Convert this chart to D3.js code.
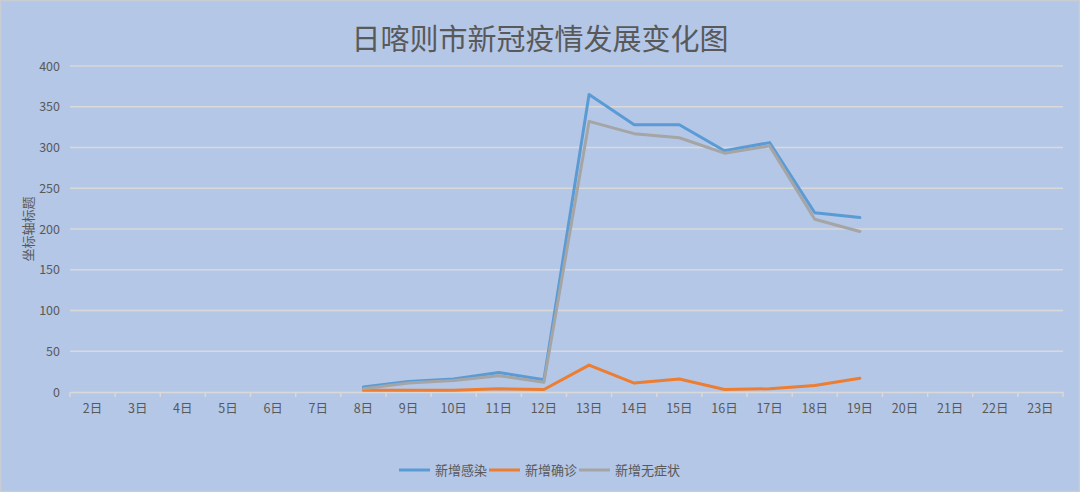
<!DOCTYPE html>
<html><head><meta charset="utf-8">
<script src="https://cdn.jsdelivr.net/npm/d3@7"></script>
<style>
html,body{margin:0;padding:0;background:#B4C7E7;}
svg{display:block;}
</style></head>
<body>
<svg id="chart" width="1080" height="492"></svg>
<script>
const categories = ["2日","3日","4日","5日","6日","7日","8日","9日","10日","11日","12日","13日","14日","15日","16日","17日","18日","19日","20日","21日","22日","23日"];
const seriesDays = ["8日","9日","10日","11日","12日","13日","14日","15日","16日","17日","18日","19日"];
const infected = [6,13,16,24,15,365,328,328,296,306,220,214];
const confirmed = [2,2,2,4,3,33,11,16,3,4,8,17];
const asymptomatic = [4,11,14,20,12,332,317,312,293,302,212,197];
const yTicks = [0,50,100,150,200,250,300,350,400];
const seriesNames = ["新增感染","新增确诊","新增无症状"];
const colors = ["#5B9BD5","#ED7D31","#A5A5A5"];

const svg = d3.select("#chart");
const W = 1080, H = 492;
const m = {left:70, right:1063, top:66, bottom:392};
const font = "'Noto Sans CJK SC','Noto Sans',sans-serif";

svg.append("rect").attr("x",0.5).attr("y",0.5).attr("width",W-1).attr("height",H-1)
  .attr("fill","#B4C7E7").attr("stroke","#C9CDD3").attr("stroke-width",1.5);

svg.append("text").attr("x",540).attr("y",50).attr("text-anchor","middle")
  .attr("font-family",font).attr("font-size",29).attr("fill","#595959")
  .text("日喀则市新冠疫情发展变化图");

const x = d3.scaleBand().domain(categories).range([m.left,m.right]).paddingInner(0).paddingOuter(0);
const y = d3.scaleLinear().domain([0,400]).range([m.bottom,m.top]);

// gridlines
svg.append("g").selectAll("line").data(yTicks.filter(d=>d>0)).join("line")
  .attr("x1",m.left).attr("x2",m.right).attr("y1",d=>y(d)).attr("y2",d=>y(d))
  .attr("stroke","#D9D9D9").attr("stroke-width",1.3);

// y axis labels
const yAxis = d3.axisLeft(y).tickValues(yTicks).tickSize(0).tickPadding(10);
const gy = svg.append("g").attr("transform",`translate(${m.left},0)`).call(yAxis);
gy.select(".domain").remove();
gy.selectAll("text").attr("font-family",font).attr("font-size",12.5).attr("fill","#595959");

// x axis
const xAxis = d3.axisBottom(x).tickSize(0).tickPadding(12);
const gx = svg.append("g").attr("transform",`translate(0,${m.bottom})`).call(xAxis);
gx.select(".domain").attr("stroke","#D9D9D9").attr("stroke-width",1.5);
gx.selectAll("text").attr("font-family",font).attr("font-size",12.5).attr("fill","#595959");
// boundary tick marks
const bounds = categories.map(c=>x(c)).concat([m.right]);
gx.append("g").selectAll("line").data(bounds).join("line")
  .attr("x1",d=>d).attr("x2",d=>d).attr("y1",0).attr("y2",5)
  .attr("stroke","#D9D9D9").attr("stroke-width",1.5);

// y axis title
svg.append("text").attr("transform","translate(33,229) rotate(-90)").attr("text-anchor","middle")
  .attr("font-family",font).attr("font-size",13).attr("fill","#595959").text("坐标轴标题");

// lines
const data = [infected, confirmed, asymptomatic];
const line = d3.line().x((d,i)=>x(seriesDays[i])+x.bandwidth()/2).y(d=>y(d));
// draw order: infected, confirmed, asymptomatic (asymptomatic on top)
data.forEach((s,k)=>{
  svg.append("path").datum(s).attr("d",line).attr("fill","none")
    .attr("stroke",colors[k]).attr("stroke-width",3).attr("stroke-linejoin","round").attr("stroke-linecap","round");
});

// legend
const legendItems = [{x:399,tx:435},{x:489,tx:525},{x:579,tx:615}];
legendItems.forEach((it,k)=>{
  svg.append("line").attr("x1",it.x).attr("x2",it.x+31).attr("y1",470).attr("y2",470)
    .attr("stroke",colors[k]).attr("stroke-width",3);
  svg.append("text").attr("x",it.tx).attr("y",475).attr("font-family",font)
    .attr("font-size",13).attr("fill","#595959").text(seriesNames[k]);
});
</script>
</body></html>
